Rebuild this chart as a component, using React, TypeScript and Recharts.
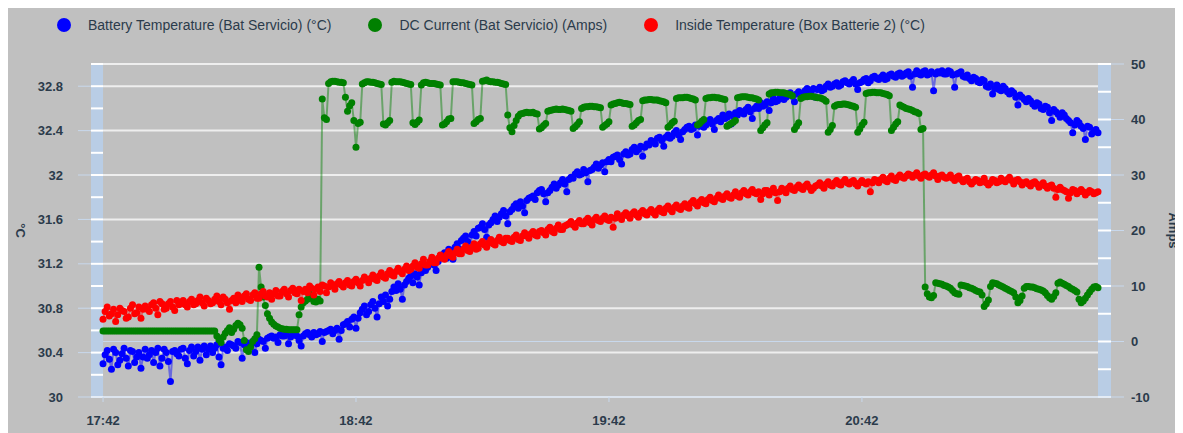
import React from "react";
import {
  ComposedChart,
  Line,
  XAxis,
  YAxis,
  CartesianGrid,
  ReferenceArea,
  ReferenceLine,
} from "recharts";

// time axis: minutes after 17:42
const xTicks = [0, 60, 120, 180];
const xTickLabels = ["17:42", "18:42", "19:42", "20:42"];
const leftTicks = [30, 30.4, 30.8, 31.2, 31.6, 32, 32.4, 32.8];
const leftMinorTicks = [30, 30.2, 30.4, 30.6, 30.8, 31, 31.2, 31.4, 31.6, 31.8, 32, 32.2, 32.4, 32.6, 32.8, 33];
const rightTicks = [-10, 0, 10, 20, 30, 40, 50];
const rightMinorTicks = [-10, -5, 0, 5, 10, 15, 20, 25, 30, 35, 40, 45, 50];

// readings on the full minute (t = 0 .. 236)
const batteryTemp = [
  30.30, 30.42, 30.25, 30.40, 30.33, 30.44, 30.28, 30.41, 30.36, 30.26,
  30.43, 30.38, 30.31, 30.44, 30.35, 30.40, 30.14, 30.42, 30.37, 30.44,
  30.30, 30.45, 30.41, 30.33, 30.46, 30.43, 30.40, 30.47, 30.29, 30.45,
  30.48, 30.46, 30.50, 30.35, 30.49, 30.47, 30.40, 30.52, 30.50, 30.53,
  30.55, 30.54, 30.56, 30.55, 30.48, 30.56, 30.55, 30.46, 30.57, 30.56,
  30.58, 30.57, 30.50, 30.59, 30.61, 30.60, 30.52, 30.65, 30.68, 30.70,
  30.62, 30.76, 30.82, 30.77, 30.86, 30.72, 30.90, 30.92, 30.88, 30.99,
  31.02, 30.88, 31.04, 31.09, 31.11, 31.01, 31.16, 31.17, 31.24, 31.14,
  31.27, 31.30, 31.33, 31.24, 31.38, 31.41, 31.45, 31.33, 31.49, 31.52,
  31.56, 31.44, 31.57, 31.63, 31.62, 31.68, 31.56, 31.69, 31.74, 31.76,
  31.66, 31.79, 31.81, 31.84, 31.87, 31.76, 31.86, 31.92, 31.91, 31.96,
  31.85, 31.98, 32.01, 32.00, 32.05, 31.94, 32.05, 32.10, 32.09, 32.03,
  32.14, 32.16, 32.18, 32.10, 32.21, 32.19, 32.25, 32.23, 32.17, 32.28,
  32.31, 32.28, 32.34, 32.26, 32.36, 32.35, 32.40, 32.32, 32.41, 32.44,
  32.42, 32.36, 32.47, 32.45, 32.50, 32.41, 32.51, 32.54, 32.52, 32.46,
  32.56, 32.58, 32.55, 32.61, 32.51, 32.62, 32.65, 32.63, 32.58, 32.69,
  32.67, 32.71, 32.70, 32.74, 32.66, 32.75, 32.73, 32.78, 32.76, 32.70,
  32.79, 32.77, 32.82, 32.80, 32.83, 32.81, 32.85, 32.82, 32.86, 32.77,
  32.84, 32.87, 32.85, 32.89, 32.86, 32.90, 32.87, 32.91, 32.88, 32.92,
  32.90, 32.93, 32.79, 32.94, 32.90, 32.94, 32.91, 32.76, 32.93, 32.94,
  32.91, 32.93, 32.79, 32.92, 32.89, 32.90, 32.85, 32.87, 32.83, 32.85,
  32.79, 32.73, 32.81, 32.76, 32.78, 32.73, 32.74, 32.63, 32.70, 32.66,
  32.67, 32.62, 32.64, 32.59, 32.61, 32.49, 32.57, 32.52, 32.54, 32.49,
  32.38, 32.49, 32.44, 32.32, 32.43, 32.39, 32.38,
];

const dcCurrent = [
  1.9, 1.9, 1.9, 1.9, 1.9, 1.9, 1.9, 1.9, 1.9, 1.9,
  1.9, 1.9, 1.9, 1.9, 1.9, 1.9, 1.9, 1.9, 1.9, 1.9,
  1.9, 1.9, 1.9, 1.9, 1.9, 1.9, 1.9, 1.0, -0.2, 1.5,
  2.5, 2.2, 3.3, 2.4, -1.5, -1.0, 0.5, 13.4, 8.0, 5.0,
  3.5, 2.8, 2.4, 2.2, 2.1, 2.1, 2.1, 6.2, 7.3, 8.6,
  7.2, 7.6, 43.7, 40.0, 46.8, 46.9, 46.7, 46.6, 41.5, 43.0,
  35.0, 39.5, 46.6, 46.8, 46.7, 46.5, 46.3, 39.0, 39.8, 46.9,
  46.8, 46.7, 46.5, 46.3, 39.1, 39.9, 46.6, 46.6, 46.5, 46.4,
  46.2, 39.2, 40.1, 46.8, 46.8, 46.6, 46.5, 46.3, 39.3, 40.0,
  46.9, 47.1, 46.8, 46.7, 46.6, 46.4, 40.8, 37.8, 39.8, 41.0,
  41.2, 41.2, 41.3, 41.0, 38.5, 39.3, 41.6, 41.8, 41.8, 41.9,
  41.7, 41.5, 38.7, 39.6, 42.2, 42.3, 42.4, 42.3, 42.1, 38.9,
  39.6, 42.8, 43.0, 43.0, 42.9, 42.7, 39.0, 39.8, 43.4, 43.5,
  43.6, 43.5, 43.4, 43.2, 38.6, 39.4, 43.8, 43.9, 44.0, 43.9,
  43.7, 39.0, 39.7, 43.8, 43.9, 44.0, 43.9, 43.7, 38.8, 39.3,
  39.8, 44.0, 44.1, 44.0, 43.9, 43.7, 38.0, 39.0, 44.6, 44.8,
  44.9, 44.8, 44.7, 44.5, 38.2, 39.4, 44.0, 44.1, 44.2, 44.0,
  43.9, 43.6, 37.7, 38.9, 42.6, 42.7, 42.8, 42.6, 42.4, 37.7,
  39.0, 44.7, 44.8, 44.9, 44.8, 44.7, 44.5, 38.0, 39.2, 42.6,
  42.2, 41.9, 41.6, 41.3, 38.2, 9.8, 8.0, 8.3, 10.5, 10.3,
  10.0, 9.6, 8.8, 8.5, 10.1, 9.9, 9.6, 9.2, 8.9, 6.3,
  7.5, 10.6, 10.4, 10.0, 9.6, 9.2, 8.8, 7.0, 8.2, 9.9,
  9.8, 9.7, 9.4, 9.1, 8.3, 7.6, 8.8, 10.7, 10.3, 9.9,
  9.4, 8.9, 7.0, 7.8, 8.9, 9.8, 9.7,
];

const insideTemp = [
  30.70, 30.81, 30.75, 30.68, 30.80, 30.77, 30.72, 30.83, 30.76, 30.71,
  30.82, 30.77, 30.85, 30.74, 30.84, 30.80, 30.86, 30.78, 30.83, 30.87,
  30.81, 30.88, 30.84, 30.90, 30.82, 30.87, 30.85, 30.91, 30.83, 30.88,
  30.79, 30.89, 30.92, 30.86, 30.93, 30.87, 30.94, 30.89, 30.95, 30.90,
  30.88, 30.96, 30.91, 30.97, 30.90, 30.98, 30.93, 30.87, 30.97, 31.00,
  30.92, 30.99, 31.01, 30.94, 31.03, 30.97, 31.04, 30.99, 31.05, 31.00,
  31.06, 31.00, 31.08, 31.03, 31.10, 31.05, 31.12, 31.07, 31.14, 31.09,
  31.16, 31.11, 31.18, 31.15, 31.21, 31.16, 31.24, 31.19, 31.26, 31.21,
  31.28, 31.24, 31.31, 31.26, 31.33, 31.29, 31.36, 31.31, 31.38, 31.34,
  31.40, 31.35, 31.42, 31.37, 31.44, 31.39, 31.43, 31.40, 31.46, 31.41,
  31.48, 31.43, 31.49, 31.45, 31.50, 31.46, 31.53, 31.48, 31.55, 31.51,
  31.55, 31.58, 31.53, 31.59, 31.56, 31.61, 31.55, 31.62, 31.58, 31.63,
  31.59, 31.53, 31.65, 31.60, 31.66, 31.61, 31.67, 31.62, 31.68, 31.64,
  31.69, 31.64, 31.70, 31.66, 31.72, 31.67, 31.73, 31.69, 31.74, 31.70,
  31.77, 31.72, 31.78, 31.74, 31.80, 31.76, 31.82, 31.78, 31.83, 31.79,
  31.85, 31.80, 31.86, 31.82, 31.87, 31.83, 31.78, 31.86, 31.82, 31.88,
  31.77, 31.88, 31.84, 31.90, 31.86, 31.91, 31.87, 31.92, 31.86, 31.90,
  31.93, 31.88, 31.94, 31.90, 31.95, 31.91, 31.96, 31.92, 31.95, 31.90,
  31.95, 31.92, 31.85, 31.96, 31.93, 31.98, 31.94, 31.99, 31.95, 32.00,
  31.97, 32.01, 31.98, 32.02, 31.97, 32.01, 31.98, 32.02, 31.96, 32.00,
  31.97, 32.00, 31.95, 31.99, 31.94, 31.97, 31.92, 31.96, 31.93, 31.97,
  31.91, 31.96, 31.93, 31.97, 31.94, 31.98, 31.92, 31.96, 31.91, 31.94,
  31.90, 31.94, 31.89, 31.93, 31.88, 31.91, 31.80, 31.89, 31.86, 31.79,
  31.87, 31.83, 31.87, 31.82, 31.86, 31.83, 31.85,
];

// readings on the half minute (t = 0.5 .. 235.5)
const batteryTempHalf = [
  30.38, 30.34, 30.43, 30.29, 30.39, 30.35, 30.42, 30.31, 30.40, 30.36,
  30.35, 30.42, 30.40, 30.28, 30.43, 30.32, 30.41, 30.39, 30.43, 30.35,
  30.42, 30.37, 30.45, 30.43, 30.38, 30.46, 30.44, 30.36, 30.44, 30.42,
  30.47, 30.44, 30.49, 30.47, 30.45, 30.50, 30.48, 30.51, 30.44, 30.54,
  30.53, 30.49, 30.55, 30.57, 30.54, 30.56, 30.51, 30.55, 30.58, 30.54,
  30.56, 30.59, 30.58, 30.60, 30.57, 30.62, 30.60, 30.66, 30.63, 30.72,
  30.71, 30.79, 30.74, 30.83, 30.80, 30.84, 30.86, 30.82, 30.95, 30.96,
  30.97, 31.01, 31.07, 31.03, 31.08, 31.12, 31.14, 31.20, 31.19, 31.22,
  31.28, 31.25, 31.32, 31.35, 31.33, 31.43, 31.40, 31.46, 31.45, 31.53,
  31.51, 31.55, 31.60, 31.58, 31.65, 31.63, 31.67, 31.72, 31.70, 31.72,
  31.77, 31.80, 31.78, 31.86, 31.83, 31.84, 31.89, 31.88, 31.93, 31.92,
  31.96, 31.97, 32.03, 32.01, 32.02, 32.04, 32.07, 32.06, 32.11, 32.12,
  32.12, 32.17, 32.14, 32.19, 32.18, 32.23, 32.21, 32.26, 32.25, 32.27,
  32.30, 32.33, 32.31, 32.34, 32.33, 32.38, 32.36, 32.39, 32.43, 32.41,
  32.45, 32.44, 32.43, 32.48, 32.46, 32.49, 32.48, 32.51, 32.55, 32.53,
  32.54, 32.57, 32.59, 32.57, 32.60, 32.60, 32.62, 32.66, 32.65, 32.66,
  32.69, 32.68, 32.72, 32.71, 32.73, 32.72, 32.76, 32.74, 32.78, 32.77,
  32.76, 32.80, 32.79, 32.82, 32.80, 32.84, 32.83, 32.84, 32.82, 32.83,
  32.86, 32.83, 32.88, 32.87, 32.88, 32.86, 32.90, 32.89, 32.91, 32.89,
  32.92, 32.89, 32.91, 32.91, 32.93, 32.90, 32.93, 32.91, 32.92, 32.91,
  32.94, 32.90, 32.91, 32.93, 32.88, 32.87, 32.88, 32.84, 32.86, 32.80,
  32.82, 32.78, 32.77, 32.80, 32.75, 32.76, 32.70, 32.72, 32.68, 32.69,
  32.64, 32.65, 32.60, 32.62, 32.56, 32.59, 32.55, 32.56, 32.51, 32.47,
  32.45, 32.47, 32.42, 32.44, 32.37, 32.41,
];

const dcCurrentHalf = [
  1.9, 1.9, 1.9, 1.9, 1.9, 1.9, 1.9, 1.9, 1.9, 1.9,
  1.9, 1.9, 1.9, 1.9, 1.9, 1.9, 1.9, 1.9, 1.9, 1.9,
  1.9, 1.9, 1.9, 1.9, 1.9, 1.9, 1.9, 0.3, 0.8, 2.0,
  1.6, 2.9, 3.0, 0.2, -1.8, 0.0, 1.2, 9.8, 6.5, 4.2,
  3.1, 2.6, 2.3, 2.2, 2.1, 2.1, 4.8, 7.0, 7.6, 7.8,
  7.1, 7.3, 40.3, 46.5, 46.9, 46.8, 46.7, 44.0, 42.5, 39.8,
  39.3, 46.4, 46.8, 46.7, 46.6, 46.4, 39.2, 39.4, 46.7, 46.8,
  46.8, 46.6, 46.4, 39.4, 39.5, 46.2, 46.7, 46.5, 46.5, 46.3,
  39.0, 39.6, 40.2, 46.8, 46.7, 46.6, 46.4, 46.2, 39.6, 40.2,
  47.0, 46.9, 46.8, 46.7, 46.5, 46.3, 38.5, 38.9, 40.6, 41.1,
  41.3, 41.2, 41.1, 38.3, 38.9, 41.5, 41.7, 41.9, 41.8, 41.8,
  41.6, 38.4, 39.1, 42.0, 42.3, 42.4, 42.3, 42.2, 38.6, 39.2,
  42.6, 42.9, 43.1, 42.9, 42.8, 38.8, 39.4, 40.0, 43.5, 43.6,
  43.5, 43.5, 43.3, 43.0, 38.9, 39.7, 43.9, 43.9, 44.0, 43.8,
  43.5, 39.3, 40.0, 43.9, 44.0, 43.9, 43.8, 43.6, 39.0, 39.5,
  43.9, 44.1, 44.1, 43.9, 43.8, 43.5, 38.5, 39.4, 44.8, 44.9,
  44.8, 44.8, 44.6, 44.3, 38.8, 43.8, 44.1, 44.2, 44.1, 43.9,
  43.8, 43.3, 38.2, 42.4, 42.7, 42.8, 42.7, 42.5, 42.2, 38.3,
  39.5, 44.8, 44.9, 44.8, 44.8, 44.6, 44.3, 38.6, 39.6, 42.4,
  42.0, 41.8, 41.4, 41.1, 38.4, 8.6, 7.9, 10.6, 10.4, 10.1,
  9.8, 9.2, 8.6, 10.2, 10.0, 9.7, 9.4, 9.0, 8.4, 6.8,
  9.9, 10.5, 10.2, 9.8, 9.4, 9.0, 8.0, 7.4, 9.6, 9.9,
  9.8, 9.5, 9.3, 8.8, 7.9, 8.1, 10.5, 10.5, 10.1, 9.6,
  9.2, 7.6, 7.3, 8.4, 9.4, 9.9,
];

const insideTempHalf = [
  30.77, 30.73, 30.79, 30.74, 30.78, 30.71, 30.80, 30.75, 30.81, 30.79,
  30.79, 30.83, 30.80, 30.86, 30.79, 30.84, 30.81, 30.87, 30.84, 30.83,
  30.86, 30.83, 30.87, 30.85, 30.89, 30.84, 30.88, 30.86, 30.90, 30.85,
  30.87, 30.85, 30.89, 30.91, 30.88, 30.92, 30.89, 30.93, 30.91, 30.94,
  30.93, 30.91, 30.95, 30.93, 30.96, 30.94, 30.97, 30.95, 30.94, 30.98,
  30.97, 30.95, 31.00, 30.99, 31.00, 31.02, 31.01, 31.03, 31.01, 31.04,
  31.03, 31.05, 31.06, 31.07, 31.06, 31.09, 31.08, 31.11, 31.10, 31.13,
  31.13, 31.15, 31.14, 31.18, 31.17, 31.20, 31.19, 31.22, 31.21, 31.25,
  31.25, 31.28, 31.27, 31.30, 31.29, 31.33, 31.32, 31.35, 31.33, 31.38,
  31.37, 31.39, 31.38, 31.41, 31.40, 31.43, 31.41, 31.44, 31.42, 31.45,
  31.45, 31.47, 31.46, 31.49, 31.48, 31.51, 31.49, 31.52, 31.51, 31.54,
  31.56, 31.55, 31.57, 31.56, 31.59, 31.57, 31.60, 31.59, 31.61, 31.60,
  31.62, 31.61, 31.62, 31.64, 31.63, 31.65, 31.64, 31.66, 31.65, 31.67,
  31.66, 31.68, 31.67, 31.70, 31.69, 31.71, 31.70, 31.72, 31.71, 31.75,
  31.74, 31.76, 31.75, 31.78, 31.77, 31.79, 31.79, 31.81, 31.80, 31.82,
  31.81, 31.84, 31.83, 31.85, 31.84, 31.85, 31.83, 31.86, 31.85, 31.84,
  31.85, 31.86, 31.88, 31.87, 31.89, 31.88, 31.90, 31.89, 31.88, 31.91,
  31.90, 31.92, 31.91, 31.93, 31.92, 31.94, 31.93, 31.94, 31.92, 31.93,
  31.93, 31.94, 31.93, 31.95, 31.96, 31.95, 31.97, 31.96, 31.98, 31.98,
  31.99, 32.00, 32.00, 31.99, 32.00, 31.99, 32.00, 31.99, 31.99, 31.98,
  31.98, 31.97, 31.98, 31.96, 31.96, 31.94, 31.94, 31.95, 31.94, 31.93,
  31.93, 31.95, 31.94, 31.95, 31.96, 31.95, 31.95, 31.94, 31.93, 31.92,
  31.93, 31.92, 31.91, 31.90, 31.90, 31.88, 31.87, 31.87, 31.85, 31.84,
  31.86, 31.85, 31.85, 31.84, 31.85, 31.84,
];

const series = [
  { key: "bat", name: "Battery Temperature (Bat Servicio) (°C)", color: "#0000ff", axis: "left" },
  { key: "amps", name: "DC Current (Bat Servicio) (Amps)", color: "#008000", axis: "right" },
  { key: "inside", name: "Inside Temperature (Box Batterie 2) (°C)", color: "#ff0000", axis: "left" },
];

const data: { t: number; bat: number; amps: number; inside: number }[] = [];
batteryTemp.forEach((v, i) => {
  data.push({ t: i, bat: v, amps: dcCurrent[i], inside: insideTemp[i] });
  if (i < batteryTempHalf.length) {
    data.push({ t: i + 0.5, bat: batteryTempHalf[i], amps: dcCurrentHalf[i], inside: insideTempHalf[i] });
  }
});

// the blue bands on both sides sit inside the x domain, outside the data
const X_MIN = -2.85;
const X_DATA_END = 236;
const X_MAX = 239.08;

const TEXT = "#2b3b4b";
const PALE = "#c8d8ec";
const BAND = "#b9cde5";
const FONT = '"Liberation Sans", Arial, sans-serif';

const AxisTitle = ({ viewBox, value, dx }: any) => {
  const cx = viewBox.x + dx;
  const cy = viewBox.y + viewBox.height / 2;
  return (
    <text x={cx} y={cy} transform={`rotate(90 ${cx} ${cy})`} textAnchor="middle"
      dominantBaseline="central" fontSize={13} fontWeight="bold" fill={TEXT}>
      {value}
    </text>
  );
};

export default function App() {
  const tickStyle = { fontSize: 13, fontWeight: "bold", fill: TEXT };
  return (
    <div style={{ position: "relative", width: 1175, height: 425, background: "#c0c0c0", fontFamily: FONT }}>
      <div style={{ position: "absolute", top: 9, left: 49, display: "flex", alignItems: "center", fontSize: 14, color: TEXT }}>
        {series.map((s) => (
          <div key={s.key} style={{ display: "flex", alignItems: "center", marginRight: 37 }}>
            <span style={{ width: 14, height: 14, borderRadius: 7, background: s.color, marginRight: 17 }} />
            <span>{s.name}</span>
          </div>
        ))}
      </div>
      <ComposedChart width={1175} height={425} data={data} margin={{ top: 56, right: 0, bottom: 6, left: 0 }}
        style={{ fontFamily: FONT }}>
        <CartesianGrid yAxisId="left" vertical={false} stroke="#eeeeee" strokeWidth={2} />
        <XAxis dataKey="t" type="number" domain={[X_MIN, X_MAX]} ticks={xTicks} allowDataOverflow
          tickFormatter={(v) => xTickLabels[xTicks.indexOf(v)]} height={30}
          axisLine={{ stroke: PALE }} tickLine={{ stroke: PALE }} tickSize={5} tickMargin={14} tick={tickStyle} />
        <YAxis yAxisId="left" orientation="left" domain={[30, 33]} ticks={leftTicks} width={83}
          axisLine={false} tickLine={{ stroke: PALE }} tickSize={13} tickMargin={15} tick={tickStyle}
          label={{ content: (p: any) => <AxisTitle {...p} value="°C" dx={12} /> }} />
        <YAxis yAxisId="right" orientation="right" domain={[-10, 50]} ticks={rightTicks} width={72}
          axisLine={false} tickLine={{ stroke: PALE }} tickSize={13} tickMargin={7} tick={tickStyle}
          label={{ content: (p: any) => <AxisTitle {...p} value="Amps" dx={62} /> }} />
        <ReferenceArea yAxisId="left" x1={X_MIN} x2={0} y1={30} y2={33} fill={BAND} fillOpacity={1} stroke="none" />
        <ReferenceArea yAxisId="left" x1={X_DATA_END} x2={X_MAX} y1={30} y2={33} fill={BAND} fillOpacity={1} stroke="none" />
        {leftMinorTicks.map((v) => (
          <ReferenceLine key={"l" + v} yAxisId="left"
            segment={[{ x: X_MIN, y: v }, { x: 0, y: v }]} stroke="#ffffff" strokeWidth={2} />
        ))}
        {rightMinorTicks.map((v) => (
          <ReferenceLine key={"r" + v} yAxisId="right"
            segment={[{ x: X_DATA_END, y: v }, { x: X_MAX, y: v }]} stroke="#ffffff" strokeWidth={2} />
        ))}
        <ReferenceLine yAxisId="right" segment={[{ x: 0, y: 0 }, { x: X_DATA_END, y: 0 }]} stroke={PALE} />
        {series.map((s) => (
          <Line key={s.key} yAxisId={s.axis} dataKey={s.key} name={s.name} type="linear"
            stroke={s.color} strokeOpacity={0.45} strokeWidth={2}
            dot={{ r: 3.5, fill: s.color, stroke: "none", strokeWidth: 0 }}
            activeDot={false} isAnimationActive={false} />
        ))}
      </ComposedChart>
    </div>
  );
}
